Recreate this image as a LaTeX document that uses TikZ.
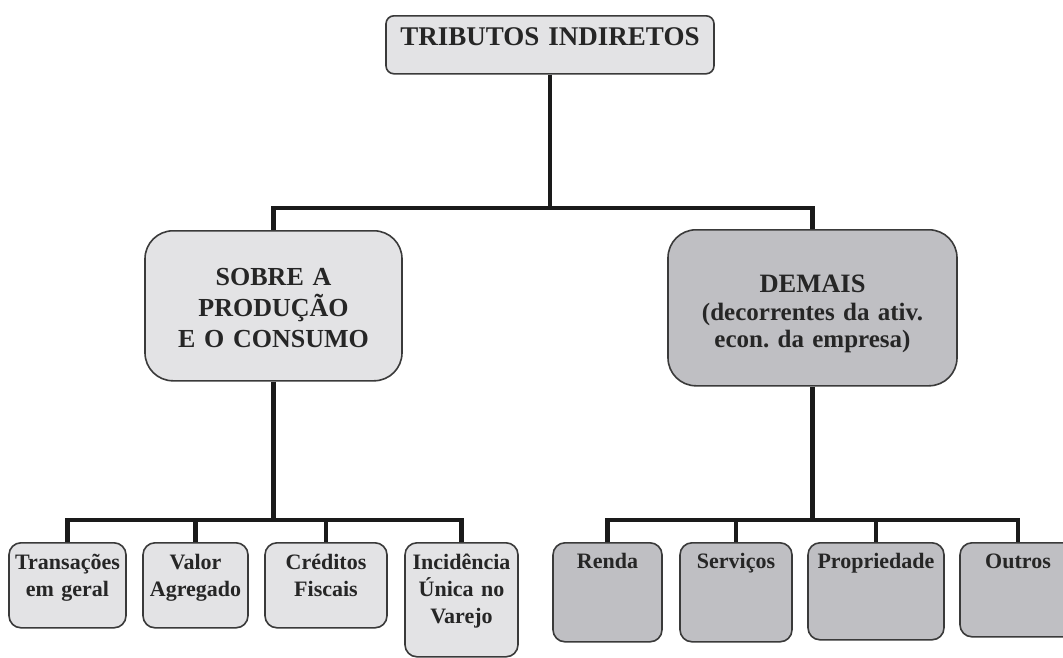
\documentclass[tikz,border=0pt]{standalone}
\usepackage{fontspec}
\setmainfont{Liberation Serif}
\frenchspacing
\definecolor{lightc}{HTML}{E3E3E5}
\definecolor{darkc}{HTML}{BFBFC3}
\definecolor{bordc}{HTML}{3A3A3A}
\definecolor{linec}{HTML}{1A1A1A}
\definecolor{txtc}{HTML}{262626}
\tikzset{
  boxbase/.style={draw=bordc, line width=1.6pt, inner sep=0pt, anchor=north, align=center, text=txtc},
  lightbox/.style={boxbase, fill=lightc},
  darkbox/.style={boxbase, fill=darkc},
  childbox/.style={rounded corners=12pt, font=\bfseries\fontsize{22}{27}\selectfont},
  conn/.style={line width=4.5pt, draw=linec},
}
\begin{document}
\begin{tikzpicture}[x=1pt,y=-1pt]
\path[use as bounding box] (0,0) rectangle (1063,657);
\clip (0,0) rectangle (1063,657);
\fill[white] (0,0) rectangle (1063,657);

% top
\node[lightbox, rounded corners=8pt, text width=328pt, text height=30pt, text depth=28pt,
      font=\bfseries\fontsize{27}{30}\selectfont] (tit) at (550,15) {TRIBUTOS INDIRETOS};

% middle
\node[lightbox, rounded corners=28pt, text width=257pt, text height=55pt, text depth=95pt,
      font=\bfseries\fontsize{26}{31}\selectfont] (lm) at (273.5,230) {SOBRE A\\PRODUÇÃO\\E O CONSUMO};
\node[darkbox, rounded corners=28pt, text width=289pt, text height=63pt, text depth=93pt,
      font=\bfseries\fontsize{25}{27.5}\selectfont] (rm) at (812.5,229)
      {{\fontsize{26.5}{27.5}\selectfont DEMAIS}\\(decorrentes da ativ.\\econ. da empresa)};

% left children
\node[lightbox, childbox, text width=117pt, text height=27pt, text depth=58pt] (c1) at (67.5,542) {Transações\\em geral};
\node[lightbox, childbox, text width=105pt, text height=27pt, text depth=58pt] (c2) at (195.5,542) {Valor\\Agregado};
\node[lightbox, childbox, text width=122pt, text height=27pt, text depth=58pt] (c3) at (326,542) {Créditos\\Fiscais};
\node[lightbox, childbox, text width=113pt, text height=27pt, text depth=87pt] (c4) at (461.5,542) {Incidência\\Única no\\Varejo};

% right children
\node[darkbox, childbox, text width=109pt, text height=26pt, text depth=73pt] (d1) at (607.5,542) {Renda};
\node[darkbox, childbox, text width=112pt, text height=26pt, text depth=73pt] (d2) at (736,542) {Serviços};
\node[darkbox, childbox, text width=136pt, text height=26pt, text depth=71pt] (d3) at (876,542) {Propriedade};
\node[darkbox, childbox, text width=116pt, text height=26pt, text depth=68pt] (d4) at (1018,542) {Outros};

% junctions
\coordinate (j1) at (550,208);
\coordinate (j2) at (273.5,520);
\coordinate (j3) at (812.5,520);

% connectors
\draw[conn] (tit.south) -- (j1);
\draw[conn] (lm.north) |- (j1) -| (rm.north);
\draw[conn] (lm.south) -- (j2);
\draw[conn] (c1.north) |- (j2) -| (c4.north);
\draw[conn] (c2.north) -- (c2.north |- j2);
\draw[conn] (c3.north) -- (c3.north |- j2);
\draw[conn] (rm.south) -- (j3);
\draw[conn] (d1.north) |- (j3) -| (d4.north);
\draw[conn] (d2.north) -- (d2.north |- j3);
\draw[conn] (d3.north) -- (d3.north |- j3);
\end{tikzpicture}
\end{document}
